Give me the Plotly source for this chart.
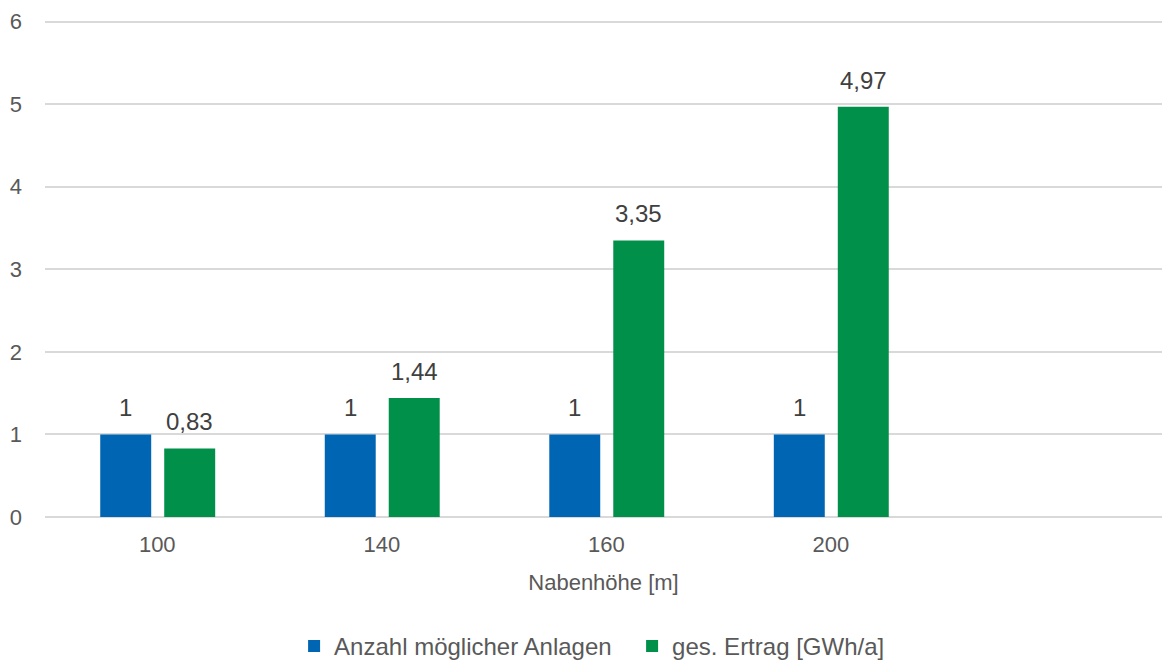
import plotly.graph_objects as go

# Hub heights and per-height results
nabenhoehe = ["100", "140", "160", "200"]
anzahl_anlagen = [1, 1, 1, 1]
ertrag_gwh = [0.83, 1.44, 3.35, 4.97]

BLUE = "#0066B3"
GREEN = "#00904A"
TEXT = "#595959"
LABEL = "#404040"
GRID = "#D9D9D9"
FONT = "Liberation Sans, Arial, sans-serif"

BAR_W = 0.227
OFFSETS = {"blue": -0.254, "green": 0.031}


def de_fmt(v, digits):
    return f"{v:.{digits}f}".replace(".", ",")


fig = go.Figure()
fig.add_trace(go.Bar(
    x=nabenhoehe, y=anzahl_anlagen, name="Anzahl möglicher Anlagen",
    marker=dict(color=BLUE, line=dict(width=0)),
    width=BAR_W, offset=OFFSETS["blue"],
))
fig.add_trace(go.Bar(
    x=nabenhoehe, y=ertrag_gwh, name="ges. Ertrag [GWh/a]",
    marker=dict(color=GREEN, line=dict(width=0)),
    width=BAR_W, offset=OFFSETS["green"],
))

# value labels above each bar
for values, key, digits in ((anzahl_anlagen, "blue", 0), (ertrag_gwh, "green", 2)):
    for i, v in enumerate(values):
        fig.add_annotation(
            x=i + OFFSETS[key] + BAR_W / 2, y=v, xref="x", yref="y",
            text=de_fmt(v, digits), showarrow=False,
            xanchor="center", yanchor="bottom", yshift=11,
            font=dict(size=24, color=LABEL, family=FONT),
        )

fig.update_layout(
    width=1162, height=661,
    margin=dict(l=45, r=0, t=20, b=144, autoexpand=False),
    paper_bgcolor="white", plot_bgcolor="white",
    font=dict(family=FONT, size=22, color=TEXT),
    showlegend=True,
    legend=dict(
        orientation="h", x=0.223, xanchor="left", y=-0.215, yanchor="top",
        font=dict(size=24, color=TEXT, family=FONT),
        entrywidth=293, traceorder="normal",
    ),
    xaxis=dict(
        type="category", range=[-0.5, 4.475],
        showgrid=False, zeroline=False, showline=False, ticks="",
        ticklabelstandoff=12,
        tickfont=dict(size=22, color=TEXT),
        title=dict(text="Nabenhöhe [m]", font=dict(size=22, color=TEXT), standoff=18),
    ),
    yaxis=dict(
        range=[0, 6.02], dtick=1, tick0=0,
        showgrid=True, gridcolor=GRID, gridwidth=1.5,
        zeroline=True, zerolinecolor=GRID, zerolinewidth=1.5,
        showline=False, ticks="",
        ticklabelstandoff=22,
        tickfont=dict(size=22, color=TEXT),
    ),
)

fig.write_html("out.html")
